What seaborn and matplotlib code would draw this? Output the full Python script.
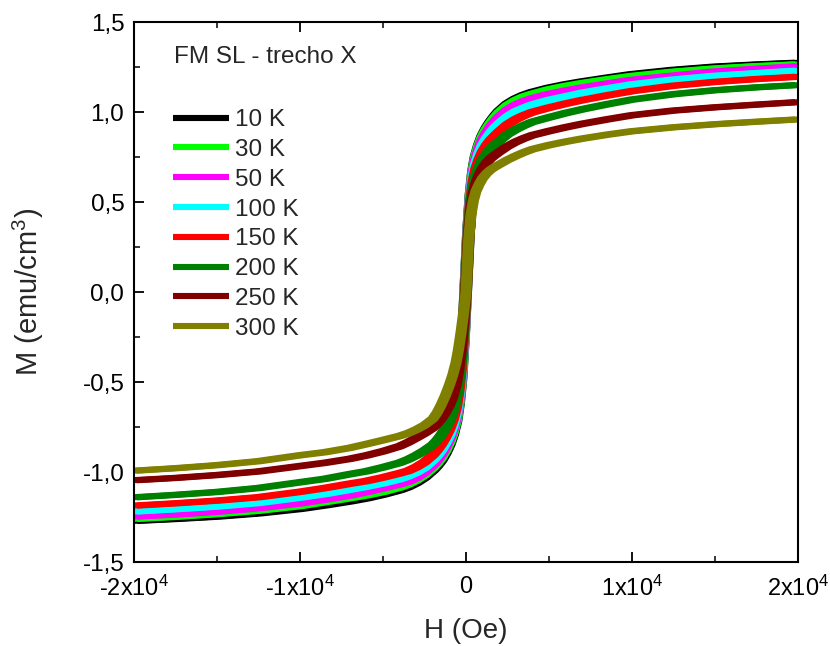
import numpy as np
import pandas as pd
import matplotlib
matplotlib.use("Agg")
import matplotlib.pyplot as plt
from matplotlib.lines import Line2D
from matplotlib.ticker import FixedLocator, MultipleLocator
import seaborn as sns

# Applied field grid (Oe) shared by every magnetisation branch
H_OE = [-20000, -17500, -15000, -12500, -10000, -8500, -7000, -6000, -5000, -4000,
        -3500, -3000, -2500, -2000, -1750, -1500, -1250, -1000, -800, -600,
        -450, -300, -150, 0, 150, 300, 450, 600, 800, 1000,
        1250, 1500, 1750, 2000, 2500, 3000, 3500, 4000, 5000, 6000,
        7000, 8500, 10000, 12500, 15000, 17500, 20000]

# Magnetisation (emu/cm^3) for each measuring temperature
M_10K = [-1.272, -1.261, -1.248, -1.230, -1.205, -1.185, -1.163, -1.146, -1.125, -1.100,
         -1.083, -1.060, -1.030, -0.990, -0.965, -0.935, -0.895, -0.845, -0.790, -0.715,
         -0.620, -0.480, -0.250, 0.040, 0.330, 0.540, 0.670, 0.750, 0.815, 0.865,
         0.910, 0.946, 0.977, 1.004, 1.045, 1.073, 1.094, 1.110, 1.134, 1.153,
         1.169, 1.190, 1.210, 1.234, 1.252, 1.264, 1.274]
M_30K = [-1.261, -1.249, -1.234, -1.215, -1.189, -1.167, -1.145, -1.129, -1.110, -1.085,
         -1.068, -1.045, -1.015, -0.975, -0.950, -0.920, -0.880, -0.831, -0.778, -0.705,
         -0.610, -0.472, -0.246, 0.039, 0.329, 0.537, 0.666, 0.744, 0.809, 0.858,
         0.903, 0.938, 0.969, 0.995, 1.036, 1.064, 1.085, 1.100, 1.125, 1.144,
         1.160, 1.181, 1.200, 1.224, 1.242, 1.255, 1.265]
M_50K = [-1.248, -1.236, -1.221, -1.201, -1.174, -1.153, -1.130, -1.111, -1.090, -1.067,
         -1.053, -1.032, -1.002, -0.961, -0.935, -0.903, -0.861, -0.812, -0.759, -0.688,
         -0.594, -0.458, -0.239, 0.036, 0.326, 0.530, 0.654, 0.730, 0.792, 0.840,
         0.883, 0.917, 0.946, 0.971, 1.011, 1.038, 1.059, 1.075, 1.099, 1.118,
         1.135, 1.157, 1.178, 1.202, 1.225, 1.240, 1.254]
M_100K = [-1.220, -1.207, -1.192, -1.172, -1.142, -1.122, -1.098, -1.081, -1.062, -1.039,
          -1.023, -1.002, -0.975, -0.934, -0.909, -0.878, -0.839, -0.792, -0.739, -0.668,
          -0.575, -0.442, -0.230, 0.031, 0.321, 0.519, 0.635, 0.707, 0.766, 0.811,
          0.851, 0.883, 0.911, 0.934, 0.973, 1.002, 1.022, 1.040, 1.066, 1.086,
          1.106, 1.130, 1.153, 1.180, 1.201, 1.216, 1.230]
M_150K = [-1.187, -1.174, -1.159, -1.140, -1.110, -1.089, -1.065, -1.050, -1.030, -1.007,
          -0.994, -0.973, -0.945, -0.905, -0.878, -0.846, -0.807, -0.760, -0.710, -0.640,
          -0.550, -0.421, -0.219, 0.025, 0.315, 0.505, 0.612, 0.679, 0.734, 0.776,
          0.814, 0.844, 0.868, 0.890, 0.930, 0.959, 0.981, 0.999, 1.024, 1.046,
          1.066, 1.092, 1.116, 1.146, 1.167, 1.183, 1.196]
M_200K = [-1.141, -1.127, -1.111, -1.089, -1.057, -1.038, -1.012, -0.996, -0.974, -0.949,
          -0.931, -0.908, -0.881, -0.849, -0.825, -0.795, -0.759, -0.716, -0.668, -0.598,
          -0.511, -0.388, -0.202, 0.018, 0.308, 0.490, 0.586, 0.646, 0.697, 0.736,
          0.770, 0.797, 0.819, 0.838, 0.876, 0.903, 0.926, 0.945, 0.970, 0.994,
          1.015, 1.043, 1.069, 1.099, 1.121, 1.137, 1.150]
M_250K = [-1.046, -1.033, -1.017, -0.997, -0.967, -0.949, -0.927, -0.908, -0.885, -0.857,
          -0.836, -0.811, -0.785, -0.755, -0.732, -0.705, -0.670, -0.628, -0.582, -0.515,
          -0.435, -0.328, -0.174, 0.009, 0.292, 0.459, 0.547, 0.603, 0.650, 0.686,
          0.719, 0.743, 0.761, 0.778, 0.809, 0.834, 0.854, 0.871, 0.894, 0.915,
          0.934, 0.959, 0.982, 1.008, 1.026, 1.041, 1.055]
M_300K = [-0.993, -0.979, -0.962, -0.940, -0.907, -0.890, -0.866, -0.845, -0.823, -0.800,
          -0.785, -0.765, -0.740, -0.705, -0.672, -0.628, -0.577, -0.517, -0.462, -0.392,
          -0.318, -0.225, -0.120, 0.000, 0.280, 0.430, 0.510, 0.560, 0.600, 0.632,
          0.660, 0.680, 0.695, 0.708, 0.734, 0.756, 0.776, 0.793, 0.816, 0.835,
          0.852, 0.874, 0.893, 0.915, 0.932, 0.946, 0.959]

TEMPERATURES = ["10 K", "30 K", "50 K", "100 K", "150 K", "200 K", "250 K", "300 K"]
# Half-width of the hysteresis loop (coercive field, Oe) for each temperature
HC_OE = [200, 195, 190, 185, 180, 170, 160, 150]
COLORS = ["#000000", "#00FF00", "#FF00FF", "#00FFFF",
          "#FF0000", "#008000", "#800000", "#808000"]

ALL_M = [M_10K, M_30K, M_50K, M_100K, M_150K, M_200K, M_250K, M_300K]
for series in ALL_M:
    assert len(series) == len(H_OE)

# Descending branch sits at -Hc, ascending branch at +Hc
rows = []
for temp, hc, mags in zip(TEMPERATURES, HC_OE, ALL_M):
    for branch, sign in (("down", -1), ("up", 1)):
        for h, m in zip(H_OE, mags):
            rows.append({"H": h + sign * hc, "M": m, "T": temp, "branch": branch})
df = pd.DataFrame(rows)

sns.set_theme(style="white")
plt.rcParams["font.family"] = ["Liberation Sans", "DejaVu Sans"]
plt.rcParams["mathtext.fontset"] = "custom"
plt.rcParams["mathtext.rm"] = "Liberation Sans"
plt.rcParams["mathtext.default"] = "regular"

fig = plt.figure(figsize=(8.30, 6.46), dpi=100)
ax = fig.add_axes([134 / 830, 1 - 562 / 646, 664 / 830, 540 / 646])

LW = 4.4
sns.lineplot(data=df, x="H", y="M", hue="T", units="branch", estimator=None,
             sort=False, hue_order=TEMPERATURES, palette=COLORS,
             linewidth=LW, legend=False, ax=ax,
             solid_joinstyle="round", solid_capstyle="butt")

ax.set_xlim(-20000, 20000)
ax.set_ylim(-1.5, 1.5)

xticks = [-20000, -10000, 0, 10000, 20000]
xlabels = ["-2x10$^4$", "-1x10$^4$", "0", "1x10$^4$", "2x10$^4$"]
ax.xaxis.set_major_locator(FixedLocator(xticks))
ax.set_xticklabels(xlabels)
ax.xaxis.set_minor_locator(MultipleLocator(5000))

yticks = [-1.5, -1.0, -0.5, 0.0, 0.5, 1.0, 1.5]
ylabels = ["-1,5", "-1,0", "-0,5", "0,0", "0,5", "1,0", "1,5"]
ax.yaxis.set_major_locator(FixedLocator(yticks))
ax.set_yticklabels(ylabels)
ax.yaxis.set_minor_locator(MultipleLocator(0.25))

ax.tick_params(axis="both", which="major", direction="in", length=7, width=1.3,
               labelsize=17, colors="black")
ax.tick_params(axis="both", which="minor", direction="in", length=4.5, width=1.3)
ax.tick_params(axis="x", which="both", top=True, bottom=True)
ax.tick_params(axis="x", which="major", pad=10)
ax.tick_params(axis="y", which="both", left=True, right=False)
ax.tick_params(axis="y", which="major", pad=7, labelsize=17.5)

for spine in ax.spines.values():
    spine.set_linewidth(1.5)
    spine.set_color("black")

ax.set_xlabel("H (Oe)", fontsize=20, labelpad=12)
ax.set_ylabel("M (emu/cm$^3$)", fontsize=21, labelpad=26)

ax.text(0.06, 0.935, "FM SL - trecho X", transform=ax.transAxes,
        fontsize=17.5, ha="left", va="center")

handles = [Line2D([], [], color=c, linewidth=LW, solid_capstyle="butt") for c in COLORS]
ax.legend(handles, TEMPERATURES, loc="upper left", bbox_to_anchor=(0.0587, 0.8386),
          frameon=False, fontsize=17.5, handlelength=2.3, handletextpad=0.25,
          labelspacing=0.32, borderpad=0, borderaxespad=0)

fig.savefig("out.png", dpi=100)
